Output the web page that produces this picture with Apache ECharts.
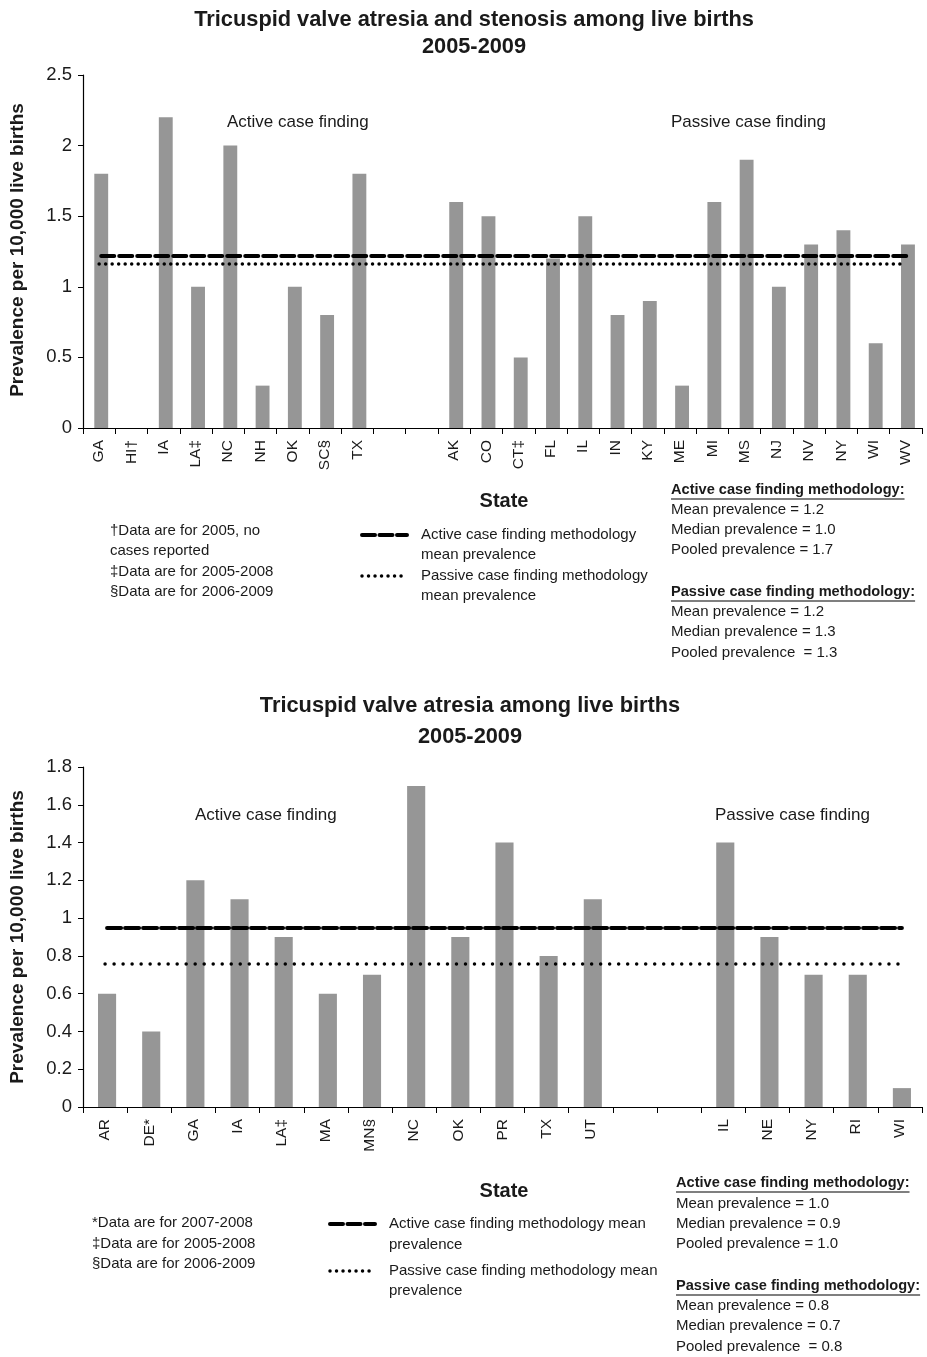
<!DOCTYPE html>
<html>
<head>
<meta charset="utf-8">
<script src="https://cdn.jsdelivr.net/npm/echarts@6/dist/echarts.min.js"></script>
<style>
  html, body { margin: 0; padding: 0; background: #fff; }
  #chart { width: 927px; height: 1357px; }
</style>
</head>
<body>
<div id="chart"></div>
<script>
// Tricuspid valve atresia and stenosis, 2005-2009
const topCats = ['GA','HI†','IA','LA‡','NC','NH','OK','SC§','TX',' ','  ','AK','CO','CT‡','FL','IL','IN','KY','ME','MI','MS','NJ','NV','NY','WI','WV'];
const topValues = [1.8,0,2.2,1.0,2.0,0.3,1.0,0.8,1.8,null,null,1.6,1.5,0.5,1.2,1.5,0.8,0.9,0.3,1.6,1.9,1.0,1.3,1.4,0.6,1.3];
const topActiveMean = 1.22;
const topPassiveMean = 1.16;
const topYTicks = { min: 0, max: 2.5, interval: 0.5 };

// Tricuspid valve atresia, 2005-2009
const botCats = ['AR','DE*','GA','IA','LA‡','MA','MN§','NC','OK','PR','TX','UT',' ','  ','IL','NE','NY','RI','WI'];
const botValues = [0.6,0.4,1.2,1.1,0.9,0.6,0.7,1.7,0.9,1.4,0.8,1.1,null,null,1.4,0.9,0.7,0.7,0.1];
const botActiveMean = 0.95;
const botPassiveMean = 0.76;
const botYTicks = { min: 0, max: 1.8, interval: 0.2 };

const topTitle = ['Tricuspid valve atresia and stenosis among live births', '2005-2009'];
const botTitle = ['Tricuspid valve atresia among live births', '2005-2009'];
const yName = 'Prevalence per 10,000 live births';
const xName = 'State';

const topNotes = ['†Data are for 2005, no', 'cases reported', '‡Data are for 2005-2008', '§Data are for 2006-2009'];
const topLegend = [['Active case finding methodology', 'mean prevalence'], ['Passive case finding methodology', 'mean prevalence']];
const topStats = {
  active: ['Mean prevalence = 1.2', 'Median prevalence = 1.0', 'Pooled prevalence = 1.7'],
  passive: ['Mean prevalence = 1.2', 'Median prevalence = 1.3', 'Pooled prevalence  = 1.3']
};
const botNotes = ['*Data are for 2007-2008', '‡Data are for 2005-2008', '§Data are for 2006-2009'];
const botLegend = [['Active case finding methodology mean', 'prevalence'], ['Passive case finding methodology mean', 'prevalence']];
const botStats = {
  active: ['Mean prevalence = 1.0', 'Median prevalence = 0.9', 'Pooled prevalence = 1.0'],
  passive: ['Mean prevalence = 0.8', 'Median prevalence = 0.7', 'Pooled prevalence  = 0.8']
};
const activeHead = 'Active case finding methodology:';
const passiveHead = 'Passive case finding methodology:';

const FONT = '"Liberation Sans", Arial, sans-serif';
const INK = '#1a1a1a';
const BAR = '#969696';

const measure = (() => {
  const ctx = document.createElement('canvas').getContext('2d');
  return (text, font) => { ctx.font = font; return ctx.measureText(text).width; };
})();

function txt(x, y, text, size, opts = {}) {
  return {
    type: 'text', x, y, rotation: opts.rotation || 0, silent: true,
    style: {
      text, fill: INK, align: opts.align || 'left', verticalAlign: 'middle',
      font: `${opts.bold ? 'bold ' : ''}${size}px ${FONT}`
    }
  };
}
function hline(x1, x2, y, width, dash, cap) {
  return {
    type: 'line', silent: true,
    shape: { x1, y1: y, x2, y2: y },
    style: { stroke: '#000', lineWidth: width, lineDash: dash, lineCap: cap || 'butt' }
  };
}
// bold, underlined block heading
function heading(x, y, text) {
  const size = 14.6;
  const w = measure(text, `bold ${size}px ${FONT}`);
  return [txt(x, y, text, size, { bold: true }), hline(x, x + w, y + 9, 1.2, null)];
}
function lines(x, ys, arr) { return arr.map((t, i) => txt(x, ys[i], t, 15)); }

const DASH = [13, 5];
const DOT = [0.01, 6.5];
const DOT2 = [0.01, 9];

function meanLine(value, n, dash, width) {
  return {
    silent: true, symbol: 'none', label: { show: false },
    lineStyle: { color: '#000', type: dash, width, cap: 'round', opacity: 1 },
    data: [[{ coord: [0, value] }, { coord: [n - 1, value] }]]
  };
}

const graphic = [
  // top panel
  txt(474, 20, topTitle[0], 21.8, { bold: true, align: 'center' }),
  txt(474, 47, topTitle[1], 21.8, { bold: true, align: 'center' }),
  txt(18, 250, yName, 19, { bold: true, align: 'center', rotation: Math.PI / 2 }),
  txt(227, 122, 'Active case finding', 17),
  txt(671, 122, 'Passive case finding', 17),
  txt(504, 501, xName, 20, { bold: true, align: 'center' }),
  ...lines(110, [531, 551, 572, 592], topNotes),
  hline(362, 407, 535, 4, [13, 4.5], 'round'),
  hline(362, 407, 576, 3.5, DOT, 'round'),
  ...lines(421, [535, 555, 576, 596], topLegend.flat()),
  ...heading(671, 490, activeHead),
  ...lines(671, [510, 530, 550], topStats.active),
  ...heading(671, 592, passiveHead),
  ...lines(671, [612, 632, 653], topStats.passive),

  // bottom panel
  txt(470, 706, botTitle[0], 21.8, { bold: true, align: 'center' }),
  txt(470, 737, botTitle[1], 21.8, { bold: true, align: 'center' }),
  txt(18, 937, yName, 19, { bold: true, align: 'center', rotation: Math.PI / 2 }),
  txt(195, 815, 'Active case finding', 17),
  txt(715, 815, 'Passive case finding', 17),
  txt(504, 1191, xName, 20, { bold: true, align: 'center' }),
  ...lines(92, [1223, 1244, 1264], botNotes),
  hline(330, 375, 1224, 4, [13, 4.5], 'round'),
  hline(330, 375, 1271, 3.5, DOT, 'round'),
  ...lines(389, [1224, 1245, 1271, 1291], botLegend.flat()),
  ...heading(676, 1183, activeHead),
  ...lines(676, [1204, 1224, 1244], botStats.active),
  ...heading(676, 1286, passiveHead),
  ...lines(676, [1306, 1326, 1347], botStats.passive)
];

function xAxis(gridIndex, cats) {
  return {
    type: 'category', gridIndex, data: cats, boundaryGap: true,
    axisLine: { lineStyle: { color: '#000', width: 1.2 } },
    axisTick: { show: true, length: 6, lineStyle: { color: '#000' } },
    axisLabel: { interval: 0, rotate: 90, fontSize: 15.5, color: INK, fontFamily: FONT, margin: 12 },
    splitLine: { show: false }
  };
}
function yAxis(gridIndex, t) {
  return {
    type: 'value', gridIndex, min: t.min, max: t.max, interval: t.interval,
    axisLine: { show: true, lineStyle: { color: '#000', width: 1.2 } },
    axisTick: { show: true, length: 5, lineStyle: { color: '#000' } },
    axisLabel: { fontSize: 18.5, color: INK, fontFamily: FONT, margin: 11 },
    splitLine: { show: false }
  };
}

const chart = echarts.init(document.getElementById('chart'), null, { renderer: 'canvas' });
chart.setOption({
  backgroundColor: '#fff',
  animation: false,
  grid: [
    { left: 83, right: 5, top: 75, height: 353 },
    { left: 83, right: 5, top: 767, height: 340 }
  ],
  xAxis: [xAxis(0, topCats), xAxis(1, botCats)],
  yAxis: [yAxis(0, topYTicks), yAxis(1, botYTicks)],
  series: [
    {
      type: 'bar', xAxisIndex: 0, yAxisIndex: 0, data: topValues, barWidth: '43%',
      itemStyle: { color: BAR }, z: 2,
      markLine: meanLine(topActiveMean, topCats.length, DASH, 4)
    },
    {
      type: 'bar', xAxisIndex: 0, yAxisIndex: 0, data: [], barGap: '-100%',
      markLine: meanLine(topPassiveMean, topCats.length, DOT, 3.5)
    },
    {
      type: 'bar', xAxisIndex: 1, yAxisIndex: 1, data: botValues, barWidth: '41%',
      itemStyle: { color: BAR }, z: 2,
      markLine: meanLine(botActiveMean, botCats.length, [14, 4], 4)
    },
    {
      type: 'bar', xAxisIndex: 1, yAxisIndex: 1, data: [], barGap: '-100%',
      markLine: meanLine(botPassiveMean, botCats.length, DOT2, 3.5)
    }
  ],
  graphic
});
</script>
</body>
</html>
